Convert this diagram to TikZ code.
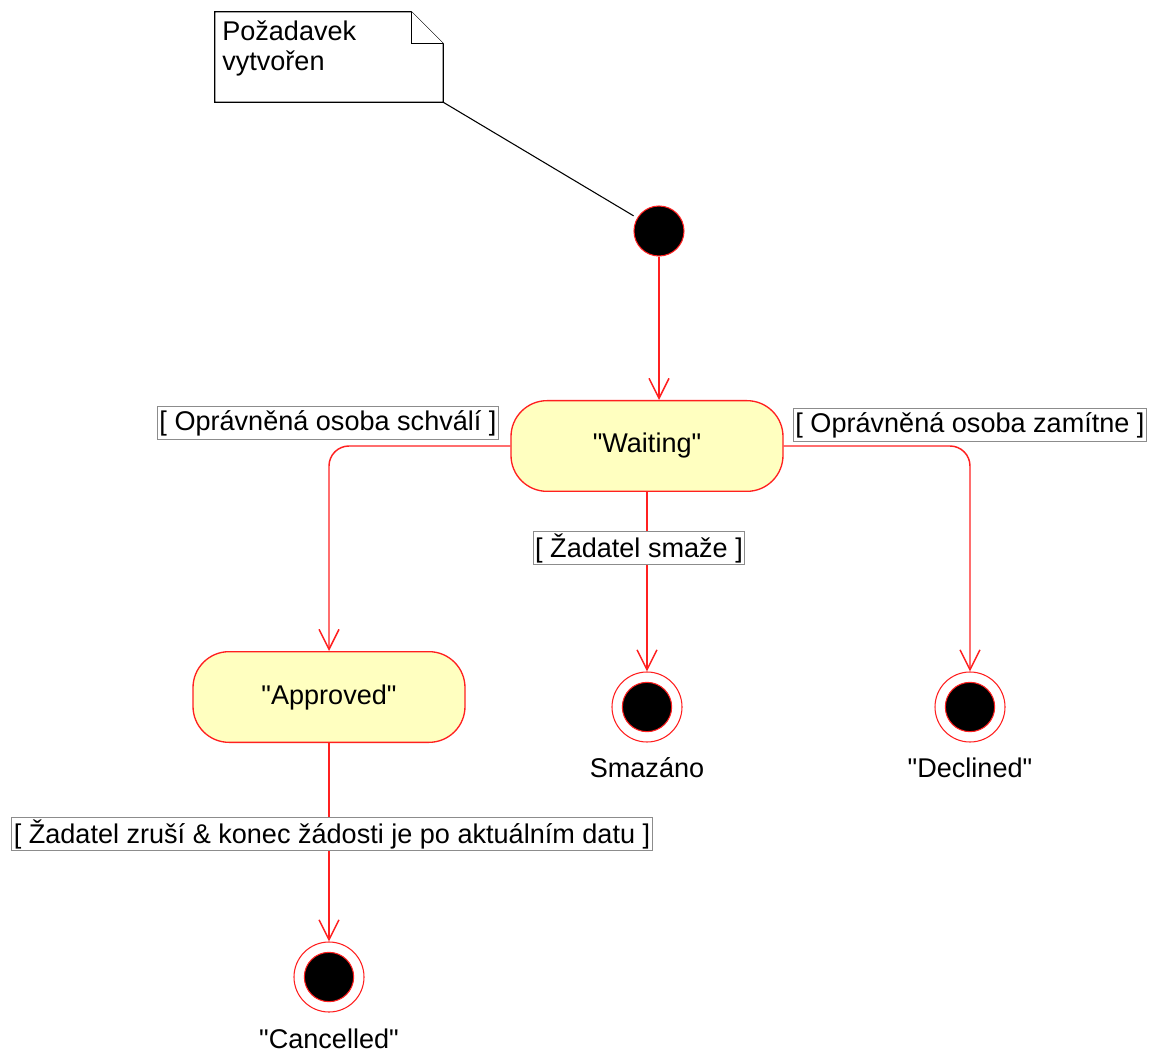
\documentclass[tikz,border=0pt]{standalone}
\usepackage{fontspec}
\setmainfont{Liberation Sans}
\usepackage{xcolor}
\definecolor{stfill}{HTML}{FFFFC0}
\definecolor{stline}{HTML}{FF2020}
\definecolor{guardline}{HTML}{8C8C8C}
\usetikzlibrary{arrows.meta, positioning}

\tikzset{
  every node/.style={font=\fontsize{20.3}{22.5}\selectfont},
  state/.style={draw=stline, fill=stfill, line width=1pt, rounded corners=27pt,
    minimum width=204pt, minimum height=68pt},
  initstate/.style={circle, draw=stline, fill=black, line width=0.8pt,
    minimum size=37.5pt, inner sep=0pt},
  finalstate/.style={circle, draw=stline, fill=white, line width=0.8pt,
    minimum size=52.5pt, inner sep=0pt,
    path picture={\filldraw[draw=stline, fill=black, line width=0.8pt]
      (path picture bounding box.center) circle (18.5pt);}},
  guard/.style={draw=guardline, fill=white, line width=0.6pt,
    inner sep=1.5pt, minimum height=25pt},
  trans/.style={draw=stline, line width=1.1pt, rounded corners=15pt,
    -{Straight Barb[length=15pt, width=15pt, line width=1.1pt]}},
  notebox/.style={draw=black, fill=white, line width=1pt},
}

\begin{document}
\begin{tikzpicture}[x=0.75pt, y=-0.75pt]
\useasboundingbox (0,0) rectangle (1157,1055);

% note
\node[minimum width=171pt, minimum height=67.5pt, inner sep=0pt] (note) at (329,57) {};
\filldraw[notebox] (note.north west) -- ([xshift=-24pt]note.north east)
  -- ([yshift=-24pt]note.north east) -- (note.south east) -- (note.south west) -- cycle;
\draw[notebox] ([xshift=-24pt]note.north east) |- ([yshift=-24pt]note.north east);
\node[anchor=north west, align=left, inner sep=0pt] (notetxt) at (222,21) {Požadavek\\vytvořen};

% states
\node[initstate] (init) at (659,231) {};
\node[state] (waiting) at (647,446) {\textquotedbl Waiting\textquotedbl};
\node[state] (approved) at (329,697) {\textquotedbl Approved\textquotedbl};
\node[finalstate] (smazano) at (647,707) {};
\node[finalstate] (declined) at (970,707) {};
\node[finalstate] (cancelled) at (329,977) {};

\node[below=8pt of smazano] (smazanolab) {Smazáno};
\node[below=8pt of declined] (declinedlab) {\textquotedbl Declined\textquotedbl};
\node[below=9pt of cancelled] (cancelledlab) {\textquotedbl Cancelled\textquotedbl};

% transitions
\draw[line width=0.8pt, shorten >=3pt] (note.south east) -- (init);
\draw[trans] (init) -- (init |- waiting.north);
\draw[trans] (waiting.west) -| (approved.north);
\draw[trans] (waiting.east) -| (declined.north);
\draw[trans] (waiting.south) -- (smazano.north);
\draw[trans] (approved) -- (cancelled);

% guards
\node[guard] (gschvali) at (328,423) {[ Oprávněná osoba schválí ]};
\node[guard] (gzamitne) at (970,425) {[ Oprávněná osoba zamítne ]};
\node[guard] (gsmaze) at (639,548) {[ Žadatel smaže ]};
\node[guard] (gzrusi) at (332,834) {[ Žadatel zruší \& konec žádosti je po aktuálním datu ]};
\end{tikzpicture}
\end{document}
